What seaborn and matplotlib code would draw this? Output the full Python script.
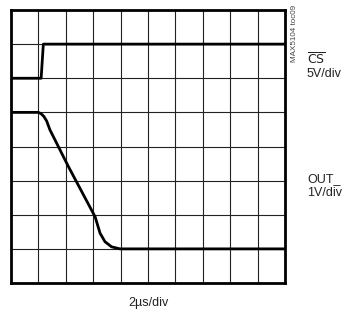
import matplotlib
matplotlib.use("Agg")
import matplotlib.pyplot as plt
import seaborn as sns
import pandas as pd

# scope trace values, in divisions (x: 2us/div, y: screen divisions)
cs_t = [0.0, 1.10, 1.18, 10.0]
cs_v = [6.0, 6.0, 7.0, 7.0]

out_t = [0.0, 1.0, 1.1, 1.2, 1.3, 1.42, 2.09, 3.07, 3.25, 3.43, 3.67, 3.98, 10.0]
out_v = [5.0, 5.0, 4.96, 4.88, 4.75, 4.49, 3.42, 1.94, 1.46, 1.21, 1.06, 1.0, 1.0]

cs = pd.DataFrame({'t': cs_t, 'v': cs_v})
out = pd.DataFrame({'t': out_t, 'v': out_v})

sns.set_style('white')
plt.rcParams['font.family'] = ['Liberation Sans Narrow', 'Liberation Sans', 'DejaVu Sans']

fig = plt.figure(figsize=(3.45, 3.12), dpi=100)
ax = fig.add_axes([11/345, 29/312, 274/345, 273/312])

for i in range(1, 10):
    ax.axvline(i, color='#222222', lw=0.8, zorder=1)
for j in range(1, 8):
    ax.axhline(j, color='#222222', lw=0.8, zorder=1)

sns.lineplot(data=cs, x='t', y='v', ax=ax, color='black', lw=2.0,
             estimator=None, sort=False, zorder=3)
sns.lineplot(data=out, x='t', y='v', ax=ax, color='black', lw=2.0,
             estimator=None, sort=False, zorder=3)

ax.set_xlim(0, 10)
ax.set_ylim(0, 8)
ax.set_xticks([])
ax.set_yticks([])
ax.set_xlabel('')
ax.set_ylabel('')
for s in ax.spines.values():
    s.set_visible(True)
    s.set_linewidth(2.0)
    s.set_color('black')

txt = '#222222'
fig.text(148/345, 1 - 306/312, '2\u00b5s/div', ha='center', va='baseline', fontsize=9, color=txt)
fig.text(294/345, 1 - 33/312, 'MAX5104 toc09', ha='center', va='center', rotation=90,
         fontsize=5.8, color='#444444')
fig.text(307/345, 1 - 64/312, r'$\overline{\mathrm{CS}}$', ha='left', va='baseline', fontsize=9,
         color=txt, math_fontfamily='dejavusans')
fig.text(307/345, 1 - 77/312, '5V/div', ha='left', va='baseline', fontsize=9, color=txt)
fig.text(307/345, 1 - 182/312, 'OUT_', ha='left', va='baseline', fontsize=9, color=txt)
fig.text(307/345, 1 - 196/312, '1V/div', ha='left', va='baseline', fontsize=9, color=txt)

fig.savefig('out.png', dpi=100)
